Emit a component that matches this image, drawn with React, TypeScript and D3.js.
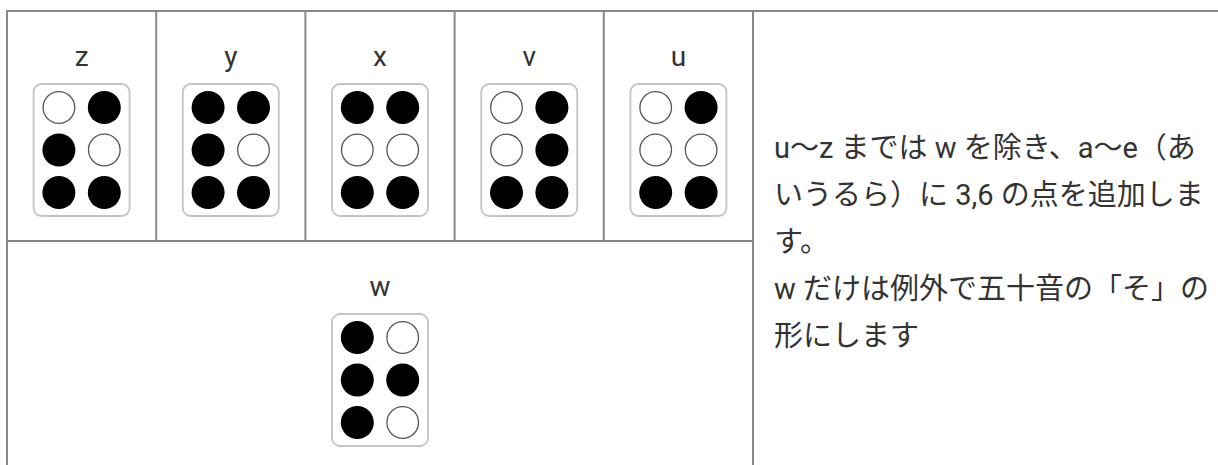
import React from 'react';
import * as d3 from 'd3';

// 点字パターン(画像の見た目どおり、行ごとに [左, 右]、1 = 黒丸)
const topLabels = ['z', 'y', 'x', 'v', 'u'];
const topDots: number[][][] = [
  [[0, 1], [1, 0], [1, 1]], // z
  [[1, 1], [1, 0], [1, 1]], // y
  [[1, 1], [0, 0], [1, 1]], // x
  [[0, 1], [0, 1], [1, 1]], // v
  [[0, 1], [0, 0], [1, 1]], // u
];
const bottomLabel = 'w';
const bottomDots: number[][] = [[1, 0], [1, 1], [1, 0]];

const noteLines = [
  'u〜z までは w を除き、a〜e（あ',
  'いうるら）に 3,6 の点を追加しま',
  'す。',
  'w だけは例外で五十音の「そ」の',
  '形にします',
];

const W = 1218;
const H = 465;

const tableLeft = 7;
const tableTop = 11;
const rowSplit = 241;
const gridRight = 753;
const lineColor = '#888';
const textColor = '#333';
const font = "Roboto, 'Noto Sans CJK JP', sans-serif";

const colX = d3.scaleBand<string>().domain(topLabels).range([tableLeft, gridRight]);
const dotCol = d3.scalePoint<number>().domain([0, 1]).range([-22.7, 22.7]);
const dotRow = d3.scalePoint<number>().domain([0, 1, 2]).range([-42.5, 42.5]);
const noteY = d3.scaleLinear().domain([0, 1]).range([158, 205]);

const BOX_W = 96;
const BOX_H = 132;

// 1 マス分の点字
const BrailleCell: React.FC<{ cx: number; top: number; label: string; dots: number[][] }> = ({ cx, top, label, dots }) => {
  const boxTop = top + 73;
  const cy = boxTop + BOX_H / 2;
  return (
    <g>
      <text x={cx} y={top + 55} textAnchor="middle" fontSize={28} fontFamily={font} fill={textColor}>
        {label}
      </text>
      <rect
        x={cx - BOX_W / 2}
        y={boxTop}
        width={BOX_W}
        height={BOX_H}
        rx={8}
        fill="#fff"
        stroke="#c4c4c4"
        strokeWidth={1.8}
      />
      {dots.map((row, r) =>
        row.map((on, c) => (
          <circle
            key={`${r}-${c}`}
            cx={cx + (dotCol(c) ?? 0)}
            cy={cy + (dotRow(r) ?? 0)}
            r={on ? 16.5 : 15.8}
            fill={on ? '#000' : '#fff'}
            stroke={on ? 'none' : '#555'}
            strokeWidth={on ? 0 : 1.3}
          />
        ))
      )}
    </g>
  );
};

export default function App() {
  return (
    <svg
      width={W}
      height={H}
      style={{ position: 'absolute', left: 0, top: 0, display: 'block', background: '#fff' }}
    >
      <rect x={0} y={0} width={W} height={H} fill="#fff" />

      {topLabels.map((l, i) => (
        <BrailleCell key={l} cx={(colX(l) ?? 0) + colX.bandwidth() / 2} top={tableTop} label={l} dots={topDots[i]} />
      ))}
      <BrailleCell cx={(tableLeft + gridRight) / 2} top={rowSplit} label={bottomLabel} dots={bottomDots} />

      {noteLines.map((line, i) => (
        <text key={i} x={774} y={noteY(i)} fontSize={29} fontFamily={font} fill={textColor}>
          {line}
        </text>
      ))}

      {/* 罫線 */}
      <g stroke={lineColor} strokeWidth={2} fill="none">
        <line x1={tableLeft - 1} x2={W} y1={tableTop} y2={tableTop} />
        <line x1={tableLeft} x2={tableLeft} y1={tableTop} y2={H} />
        <line x1={tableLeft} x2={gridRight} y1={rowSplit} y2={rowSplit} />
        <line x1={gridRight} x2={gridRight} y1={tableTop} y2={H} />
        {topLabels.slice(1).map((l) => (
          <line key={l} x1={colX(l)} x2={colX(l)} y1={tableTop} y2={rowSplit} />
        ))}
      </g>
    </svg>
  );
}
